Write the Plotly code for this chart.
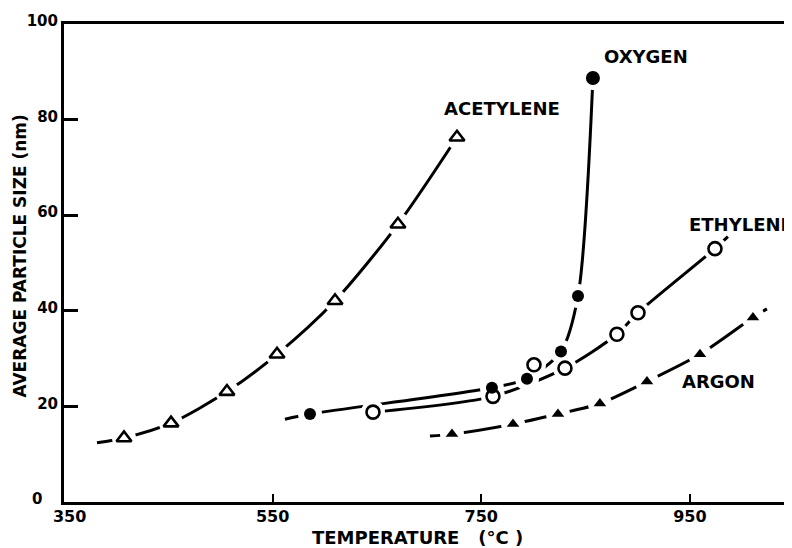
import plotly.graph_objects as go

# ---- data ----
TEMP_TICKS = [350, 550, 750, 950]
SIZE_TICKS = [0, 20, 40, 60, 80, 100]

ACETYLENE_T = [407.5, 452.6, 506.2, 554.2, 609.8, 670.1, 726.7]
ACETYLENE_D = [13.4, 16.5, 23.1, 30.9, 42.1, 58.1, 76.3]

OXYGEN_T = [585.8, 760.2, 793.8, 826.4, 842.7, 857.0]
OXYGEN_D = [18.4, 23.9, 25.8, 31.5, 43.1, 88.7]

ETHYLENE_T = [646.2, 761.2, 830.2, 880.0, 900.2, 974.0]
ETHYLENE_D = [18.8, 22.1, 28.0, 35.1, 39.6, 53.0]
ETHYLENE_STRAY_T = [800.5]
ETHYLENE_STRAY_D = [28.7]

ARGON_T = [721.9, 780.4, 823.5, 863.7, 908.8, 959.6, 1010.4]
ARGON_D = [14.2, 16.3, 18.4, 20.6, 25.2, 30.9, 38.6]

# where the hand-drawn curves start before the first point / run past the last point
ACETYLENE_CURVE_START = (381.6, 12.4)
OXYGEN_CURVE_START = (561.8, 17.3)
ETHYLENE_CURVE_END = (986.4, 55.5)
ARGON_CURVE_START = (700.8, 13.8)
ARGON_CURVE_END = (1023.8, 40.4)

LABELS = [("ACETYLENE", 770.3, 82.3, "center"),
          ("OXYGEN", 908.3, 93.2, "center"),
          ("ETHYLENE", 947.1, 58.1, "left"),
          ("ARGON", 976.9, 25.2, "center")]

INK = "#000000"
FONT = "DejaVu Sans"
NB = "\u00a0"

fig = go.Figure()

curves = [
    ([ACETYLENE_CURVE_START[0]] + ACETYLENE_T, [ACETYLENE_CURVE_START[1]] + ACETYLENE_D),
    ([OXYGEN_CURVE_START[0]] + OXYGEN_T, [OXYGEN_CURVE_START[1]] + OXYGEN_D),
    (ETHYLENE_T + [ETHYLENE_CURVE_END[0]], ETHYLENE_D + [ETHYLENE_CURVE_END[1]]),
    ([ARGON_CURVE_START[0]] + ARGON_T + [ARGON_CURVE_END[0]],
     [ARGON_CURVE_START[1]] + ARGON_D + [ARGON_CURVE_END[1]]),
]
for cx, cy in curves:
    fig.add_trace(go.Scatter(x=cx, y=cy, mode="lines",
                             line=dict(color=INK, width=3, shape="spline", smoothing=0.8),
                             hoverinfo="skip", showlegend=False))

# white knock-outs create the gaps of the hand-drawn lines around each symbol
all_t = ACETYLENE_T + OXYGEN_T + ETHYLENE_T + ETHYLENE_STRAY_T + ARGON_T
all_d = ACETYLENE_D + OXYGEN_D + ETHYLENE_D + ETHYLENE_STRAY_D + ARGON_D
fig.add_trace(go.Scatter(x=all_t, y=all_d, mode="markers",
                         marker=dict(symbol="circle", size=24, color="white", opacity=1,
                                     line=dict(width=0)),
                         hoverinfo="skip", showlegend=False))

fig.add_trace(go.Scatter(x=ACETYLENE_T, y=ACETYLENE_D, mode="markers", name="Acetylene",
                         marker=dict(symbol="triangle-up-open", size=13, color=INK, opacity=1,
                                     line=dict(width=2.6, color=INK)), showlegend=False))
fig.add_trace(go.Scatter(x=ETHYLENE_T + ETHYLENE_STRAY_T, y=ETHYLENE_D + ETHYLENE_STRAY_D,
                         mode="markers", name="Ethylene",
                         marker=dict(symbol="circle-open", size=13, color=INK, opacity=1,
                                     line=dict(width=2.6, color=INK)), showlegend=False))
fig.add_trace(go.Scatter(x=OXYGEN_T, y=OXYGEN_D, mode="markers", name="Oxygen",
                         marker=dict(symbol="circle", size=[12, 12, 12, 12, 12, 14], color=INK,
                                     opacity=1, line=dict(width=0)), showlegend=False))
fig.add_trace(go.Scatter(x=ARGON_T, y=ARGON_D, mode="markers", name="Argon",
                         marker=dict(symbol="triangle-up", size=11, color=INK, opacity=1,
                                     line=dict(width=0)), showlegend=False))

annotations = []
for text, x, y, anchor in LABELS:
    annotations.append(dict(x=x, y=y, xref="x", yref="y", text=text, showarrow=False,
                            xanchor=anchor, yanchor="middle",
                            font=dict(family=FONT, size=18, color=INK, weight=700)))
annotations.append(dict(x=0.4876, y=-0.074, xref="paper", yref="paper",
                        text="TEMPERATURE" + NB * 3 + "(°C" + NB + ")", showarrow=False,
                        xanchor="center", yanchor="middle",
                        font=dict(family=FONT, size=18, color=INK, weight=700)))
annotations.append(dict(x=-0.0608, y=0.5155, xref="paper", yref="paper",
                        text="AVERAGE PARTICLE SIZE (nm)", showarrow=False, textangle=-90,
                        xanchor="center", yanchor="middle",
                        font=dict(family=FONT, size=17, color=INK, weight=700)))

# the page has an 8px body margin: the figure is sized so the plot area lands where the
# reference has it (x 64..788, y 17..502 in the window)
fig.update_layout(
    width=784, height=540,
    margin=dict(l=56, r=4, t=9, b=46),
    paper_bgcolor="white", plot_bgcolor="white",
    annotations=annotations,
    shapes=[dict(type="line", xref="paper", yref="y", x0=1, x1=1, y0=100, y1=61.2,
                 line=dict(color=INK, width=2.5))],
)
x_text = [str(v) for v in TEMP_TICKS]
x_text[0] = NB * 2 + x_text[0]
y_text = [str(v) for v in SIZE_TICKS]
y_text[0] = y_text[0] + NB * 3
fig.update_xaxes(range=[350, 1044], tickvals=TEMP_TICKS, ticktext=x_text,
                 showgrid=False, zeroline=False, showline=True, linecolor=INK, linewidth=3,
                 mirror=True, ticks="inside", ticklen=8, tickwidth=2, tickcolor=INK,
                 ticklabelstandoff=-2,
                 tickfont=dict(family=FONT, size=16, color=INK, weight=700))
fig.update_yaxes(range=[0, 100], tickvals=SIZE_TICKS, ticktext=y_text,
                 showgrid=False, zeroline=False, showline=True, linecolor=INK, linewidth=3,
                 ticks="inside", ticklen=14, tickwidth=2.5, tickcolor=INK,
                 ticklabelshift=-3, ticklabeloverflow="allow",
                 tickfont=dict(family=FONT, size=15, color=INK, weight=700))

fig.write_html("out.html")
